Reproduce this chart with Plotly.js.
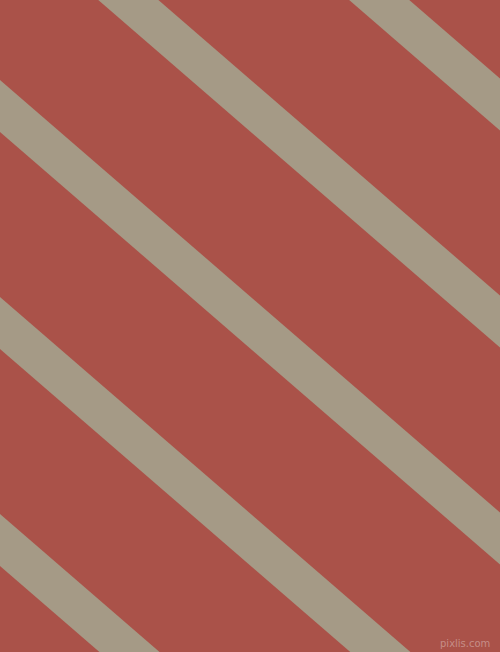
<!DOCTYPE html>
<html>
<head>
<meta charset="utf-8">
<script src="https://cdn.plot.ly/plotly-3.0.1.min.js"></script>
<style>html,body{margin:0;padding:0;background:#AA5249;}#chart{width:500px;height:652px;}</style>
</head>
<body>
<div id="chart"></div>
<script>
// Stripe upper-edge intercepts at x=0 (pixel units, y downward)
const stripeIntercepts = [-354, -137, 80, 297, 514];
const stripeSlope = 0.865;
const stripeThickness = 52;
const bgColor = '#AA5249';
const stripeColor = '#A59A86';

const xL = -20, xR = 520;
const traces = stripeIntercepts.map(b => ({
  type: 'scatter',
  mode: 'lines',
  x: [xL, xR, xR, xL, xL],
  y: [b + stripeSlope * xL, b + stripeSlope * xR,
      b + stripeThickness + stripeSlope * xR, b + stripeThickness + stripeSlope * xL,
      b + stripeSlope * xL],
  fill: 'toself',
  fillcolor: stripeColor,
  line: {width: 0, color: stripeColor},
  hoverinfo: 'skip',
  showlegend: false
}));

const layout = {
  width: 500, height: 652,
  margin: {l: 0, r: 0, t: 0, b: 0, pad: 0},
  paper_bgcolor: bgColor,
  plot_bgcolor: bgColor,
  xaxis: {range: [0, 500], visible: false, fixedrange: true},
  yaxis: {range: [652, 0], visible: false, fixedrange: true},
  showlegend: false,
  annotations: [{
    text: 'pixlis.com', x: 492, y: 643, xref: 'x', yref: 'y',
    xanchor: 'right', yanchor: 'middle', showarrow: false,
    font: {family: 'DejaVu Sans', size: 10, color: 'rgba(255,255,255,0.35)'}
  }]
};
Plotly.newPlot('chart', traces, layout, {staticPlot: true, displayModeBar: false});
</script>
</body>
</html>
